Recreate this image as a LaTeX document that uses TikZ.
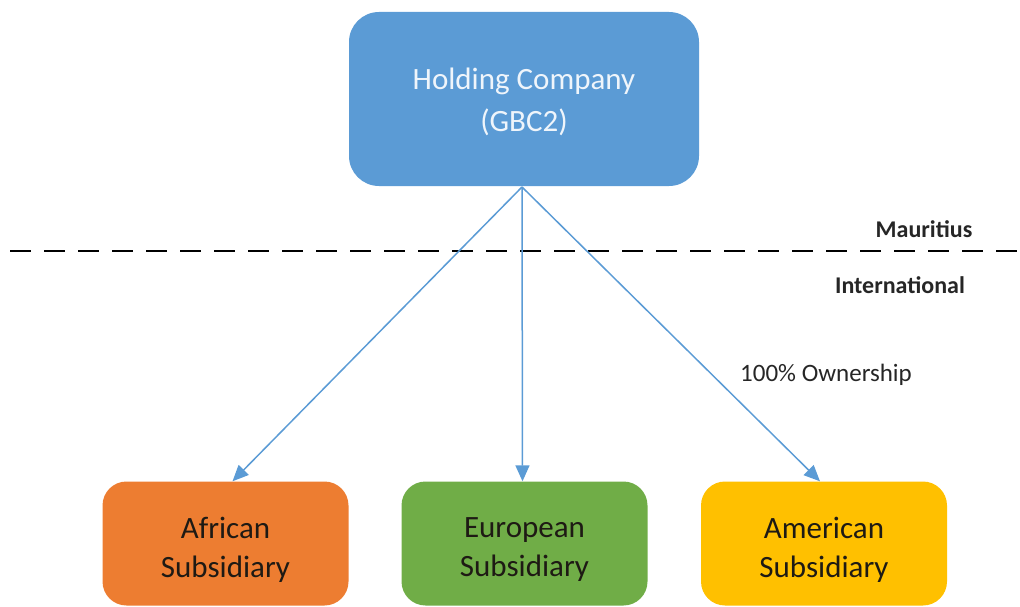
\documentclass[tikz,border=0pt]{standalone}
\usepackage{fontspec}
\setmainfont{Carlito}
\usetikzlibrary{arrows.meta}
\definecolor{hblue}{HTML}{5B9BD5}
\definecolor{aorange}{HTML}{ED7D31}
\definecolor{egreen}{HTML}{70AD47}
\definecolor{ayellow}{HTML}{FFC000}
\definecolor{darktext}{HTML}{1E1A14}
\tikzset{
  bigbox/.style={rounded corners=30pt, fill=hblue, draw=none, minimum width=350pt, minimum height=174pt},
  bigtxt/.style={align=center, text=white!90!hblue, font=\fontsize{31}{42}\selectfont},
  subbox/.style={rounded corners=24pt, draw=none, minimum width=246pt, minimum height=124pt},
  subtxt/.style={align=center, text=darktext, font=\fontsize{31}{39}\selectfont},
  conn/.style={draw=hblue, line width=1.5pt, -{Triangle[length=16pt,width=14pt]}},
  lbl/.style={font=\fontsize{25}{28}\selectfont, text=black!85},
}
\begin{document}
\begin{tikzpicture}[x=1pt,y=-1pt]
\useasboundingbox (0,0) rectangle (1020,607);
\node[bigbox] (hold) at (524,99) {};
\node[bigtxt] (holdt) at ([yshift=-3pt]hold.center) {Holding Company\\(GBC2)};
\node[subbox, fill=aorange] (afr) at (225.5,543.5) {};
\node[subbox, fill=egreen] (eur) at (524.5,543.5) {};
\node[subbox, fill=ayellow] (ame) at (824,543.5) {};
\node[subtxt] (afrt) at ([yshift=-6pt]afr.center) {African\\Subsidiary};
\node[subtxt] (eurt) at ([yshift=-6pt]eur.center) {European\\Subsidiary};
\node[subtxt] (amet) at ([yshift=-6pt]ame.center) {American\\Subsidiary};
\coordinate (dl) at (10,251);
\coordinate (dr) at (1020,251);
\draw[line width=2.6pt, dash pattern=on 21pt off 13pt] (dl) -- (dr);
\node[lbl, font=\bfseries\fontsize{24}{28}\selectfont] (mau) at (924,229) {Mauritius};
\node[lbl, font=\bfseries\fontsize{24}{28}\selectfont] (intl) at (900,285) {International};
\node[lbl] (own) at (826,375) {100\% Ownership};
\coordinate (src) at (522,187);
\draw[conn] (src) -- ([xshift=7pt]afr.north);
\draw[conn] (src) -- ([xshift=-2pt]eur.north);
\draw[conn] (src) -- ([xshift=-4pt]ame.north);
\end{tikzpicture}
\end{document}
